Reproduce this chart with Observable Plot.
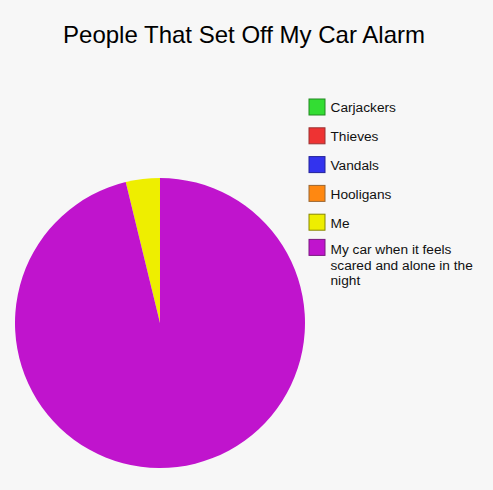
<!DOCTYPE html>
<html>
<head>
<meta charset="utf-8">
<script src="https://cdn.jsdelivr.net/npm/d3@7"></script>
<script src="https://cdn.jsdelivr.net/npm/@observablehq/plot@0.6"></script>
<style>
  html, body { margin: 0; padding: 0; background: #f7f7f7; }
  svg { display: block; }
</style>
</head>
<body>
<div id="chart"></div>
<script>
const title = "People That Set Off My Car Alarm";
const categories = ["Carjackers", "Thieves", "Vandals", "Hooligans", "Me", "My car when it feels\nscared and alone in the\nnight"];
const values = [0, 0, 0, 0, 3.8, 96.2];
const colors = ["#33dd33", "#ee3333", "#3333ee", "#ff8811", "#eeee00", "#c014cd"];
const borders = ["#228822", "#993333", "#222299", "#996633", "#888800", "#7a1a80"];

const W = 493, H = 490;
const pie = {cx: 160, cy: 323, r: 145};
const legend = {x: 309, y0: 107, step: 28.8, size: 16, textX: 330};

const table = categories.map((c, i) => ({label: c, value: values[i], color: colors[i], border: borders[i], i}));
const arcs = d3.pie().sort(null).value(d => d.value).startAngle(0).endAngle(-2 * Math.PI)(table)
  .filter(a => a.data.value > 0);

const legendRows = table.map(d => {
  const lines = d.label.split("\n").length;
  const y = legend.y0 + legend.step * d.i;
  return {...d, ty: y - (lines - 1) * 1.0, sy: y - (lines - 1) * 1.8};
});

function pieMark(index, scales) {
  const sx = scales && scales.x ? scales.x : (v => v);
  const sy = scales && scales.y ? scales.y : (v => v);
  const cx = sx(pie.cx), cy = sy(pie.cy);
  const r = sx(pie.cx + pie.r) - cx;
  const arc = d3.arc().innerRadius(0).outerRadius(r);
  const g = d3.create("svg:g").attr("transform", `translate(${cx},${cy})`);
  g.selectAll("path").data(arcs).join("path")
    .attr("d", a => arc({startAngle: Math.min(a.startAngle, a.endAngle), endAngle: Math.max(a.startAngle, a.endAngle)}))
    .attr("fill", a => a.data.color);
  return g.node();
}

const chart = Plot.plot({
  width: W,
  height: H,
  margin: 0,
  style: {background: "#f7f7f7", fontFamily: "'Liberation Sans', Arial, sans-serif"},
  x: {domain: [0, W], range: [0, W], axis: null},
  y: {domain: [0, H], range: [0, H], axis: null},
  marks: [
    pieMark,
    Plot.rect(legendRows, {
      x1: d => legend.x, x2: d => legend.x + legend.size,
      y1: d => d.sy - legend.size / 2, y2: d => d.sy + legend.size / 2,
      fill: d => d.color, stroke: d => d.border, strokeWidth: 1
    }),
    Plot.text(legendRows, {
      x: d => legend.textX, y: d => d.ty, text: d => d.label,
      textAnchor: "start", lineAnchor: "top", dy: -6, lineHeight: 1.12,
      fontSize: 13.7, fill: "#111"
    }),
    Plot.text([title], {
      x: () => W / 2 - 3, y: () => 35.3, text: d => d,
      fontSize: 24, fill: "#000", textAnchor: "middle"
    })
  ]
});
document.getElementById("chart").appendChild(chart);
</script>
</body>
</html>
